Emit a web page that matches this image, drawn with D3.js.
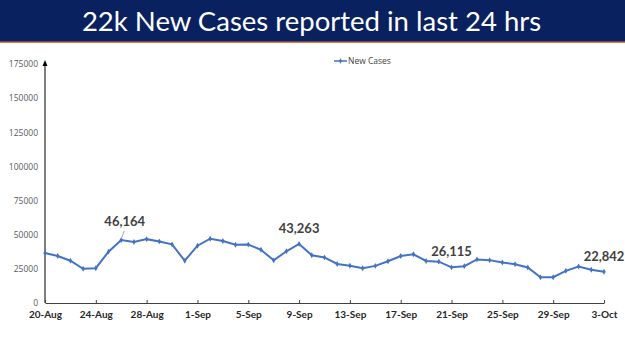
<!DOCTYPE html>
<html><head><meta charset="utf-8">
<script src="https://cdn.jsdelivr.net/npm/d3@7"></script>
<style>body{margin:0;background:#fff;}svg{display:block;}</style>
</head><body>
<script>
const title = "22k New Cases reported in last 24 hrs";
const seriesName = "New Cases";
const startDate = "2021-08-20";
const values = [36571, 34457, 30948, 25072, 25467, 37593, 46164, 44658, 46759, 45083, 42909, 30941,
  41965, 47092, 45352, 42618, 42766, 38948, 31222, 37875, 43263, 34973, 33376, 28591, 27254, 25404,
  27176, 30570, 34403, 35662, 30773, 30256, 26115, 26964, 31923, 31382, 29616, 28326, 26041, 18795,
  18870, 23529, 26727, 24354, 22842];
const yTicks = [0, 25000, 50000, 75000, 100000, 125000, 150000, 175000];
const xTickLabels = ["20-Aug","24-Aug","28-Aug","1-Sep","5-Sep","9-Sep","13-Sep","17-Sep","21-Sep","25-Sep","29-Sep","3-Oct"];
const annotatedIdx = [6, 20, 32, 44];

const W = 625, H = 351;
const svg = d3.select("body").append("svg").attr("width", W).attr("height", H);

// banner
svg.append("rect").attr("x",0).attr("y",0).attr("width",W).attr("height",42).attr("fill","#0a215f");
svg.append("rect").attr("x",0).attr("y",41.5).attr("width",W).attr("height",1.5).attr("fill","#d9764a");
svg.append("text").attr("x",W/2 - 1).attr("y",31).attr("text-anchor","middle")
  .attr("font-family","Lato, 'Open Sans', sans-serif").attr("font-size",27.5).attr("fill","#fff").text(title);

const parse = d3.timeParse("%Y-%m-%d");
const d0 = parse(startDate);
const dates = values.map((v,i)=>d3.timeDay.offset(d0,i));
const data = values.map((v,i)=>({date:dates[i], value:v}));

const x = d3.scaleTime().domain([dates[0], dates[dates.length-1]]).range([45, 604]);
const y = d3.scaleLinear().domain([0,175000]).range([303, 64]);

// y axis
const gy = svg.append("g").attr("transform","translate(45,0)")
  .call(d3.axisLeft(y).tickValues(yTicks).tickSize(0).tickPadding(7).tickFormat(d3.format("d")));
gy.select(".domain").remove();
gy.selectAll("text").attr("font-family","'Open Sans', sans-serif").attr("font-size",8.5).attr("fill","#595959");
svg.append("line").attr("x1",45).attr("x2",45).attr("y1",303).attr("y2",64).attr("stroke","#000").attr("stroke-width",1);
svg.append("path").attr("d","M45,60 L42.5,66 L47.5,66 Z").attr("fill","#000");

// x axis
const tickDates = xTickLabels.map((l,i)=>d3.timeDay.offset(d0, i*4));
const gx = svg.append("g").attr("transform","translate(0,303)")
  .call(d3.axisBottom(x).tickValues(tickDates).tickSizeInner(-3).tickSizeOuter(0).tickPadding(8)
    .tickFormat((d,i)=>xTickLabels[i]));
gx.select(".domain").attr("stroke","#404040");
gx.selectAll(".tick line").attr("stroke","#404040");
gx.selectAll("text").attr("font-family","Lato, 'Open Sans', sans-serif").attr("font-weight","bold")
  .attr("font-size",10).attr("fill","#262626");

// line
const color = "#4472c4";
svg.append("path").datum(data).attr("fill","none").attr("stroke",color).attr("stroke-width",2)
  .attr("d", d3.line().x(d=>x(d.date)).y(d=>y(d.value)));
svg.append("g").selectAll("path").data(data).join("path")
  .attr("transform",d=>`translate(${x(d.date)},${y(d.value)})`)
  .attr("d", d3.symbol(d3.symbolDiamond, 10)).attr("fill", color);

// annotations
const fmt = d3.format(",");
annotatedIdx.forEach(i=>{
  const d = data[i];
  const px = x(d.date), py = y(d.value);
  let lx = px, ly = py - 11;
  if (i === 6) { lx = px + 3.5; ly = py - 14; 
    svg.append("line").attr("x1",px).attr("y1",py-1).attr("x2",px+3).attr("y2",py-9).attr("stroke","#a6a6a6").attr("stroke-width",1);
  }
  svg.append("text").attr("x",lx).attr("y",ly).attr("text-anchor","middle")
    .attr("font-family","Lato, 'Open Sans', sans-serif").attr("font-weight","bold").attr("font-size",13)
    .attr("fill","#404040").text(fmt(d.value));
});

// legend
svg.append("line").attr("x1",334).attr("x2",347).attr("y1",61).attr("y2",61).attr("stroke",color).attr("stroke-width",1.5);
svg.append("path").attr("transform","translate(340.5,61)").attr("d", d3.symbol(d3.symbolDiamond, 8)).attr("fill",color);
svg.append("text").attr("x",348).attr("y",64).attr("font-family","'Open Sans', sans-serif").attr("font-size",8.5)
  .attr("fill","#404040").text(seriesName);
</script>
</body></html>
